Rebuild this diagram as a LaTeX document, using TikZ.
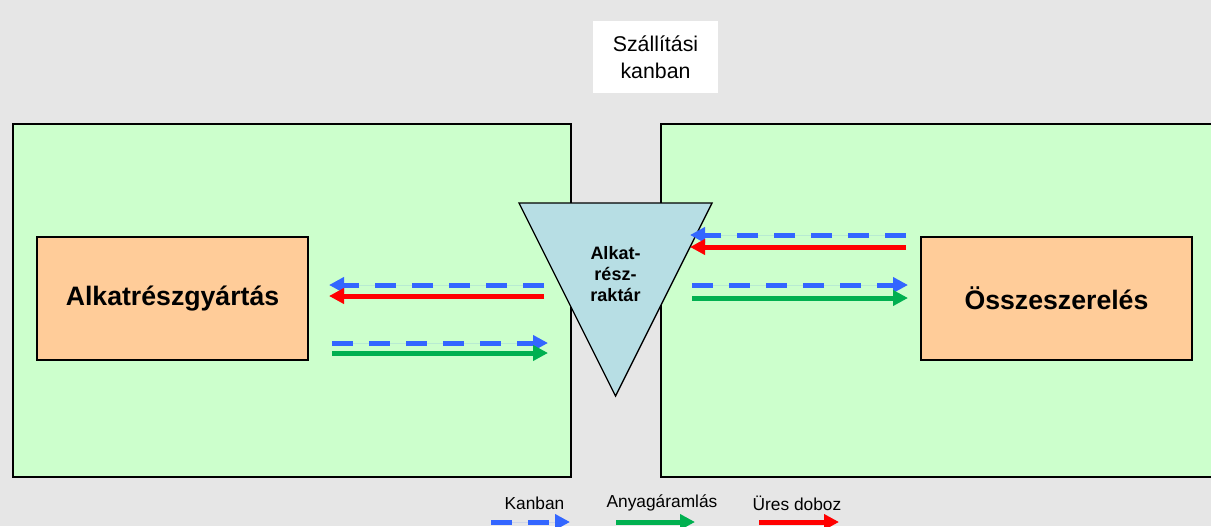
\documentclass[tikz,border=0pt]{standalone}
\usepackage{fontspec}
\setmainfont{Liberation Sans}
\usetikzlibrary{arrows.meta}
\definecolor{bggray}{RGB}{230,230,230}
\definecolor{panelgreen}{RGB}{204,255,204}
\definecolor{boxorange}{RGB}{255,204,153}
\definecolor{storeblue}{RGB}{183,222,228}
\definecolor{kanbanblue}{RGB}{51,102,255}
\definecolor{flowgreen}{RGB}{0,176,80}
\definecolor{emptyred}{RGB}{255,0,0}
\tikzset{
	panel/.style={draw, line width=1.5pt, fill=panelgreen},
	procbox/.style={draw, line width=1.5pt, fill=boxorange, minimum width=203.25pt, minimum height=92.25pt, font=\fontsize{20}{24}\selectfont\bfseries},
	flowarrow/.style={line width=3.75pt, -{Triangle[length=11.25pt, width=11.25pt]}},
	kanban/.style={flowarrow, draw=kanbanblue, fill=kanbanblue, dash pattern=on 15.75pt off 12pt},
	material/.style={flowarrow, draw=flowgreen, fill=flowgreen},
	emptybox/.style={flowarrow, draw=emptyred, fill=emptyred},
	legtext/.style={font=\fontsize{13}{15}\selectfont}
}
\begin{document}
\begin{tikzpicture}[x=0.75pt, y=-0.75pt]
	\useasboundingbox (0,0) rectangle (1211,526);
	\fill[bggray] (0,0) rectangle (1211,526);
	\clip (0,0) rectangle (1211,526);
	%%%%%%%%%%%%%
	\node[panel, minimum width=418.5pt, minimum height=264.75pt] (lpanel) at (292,300.5) {};
	\node[panel, minimum width=450pt, minimum height=264.75pt] (rpanel) at (961,300.5) {};
	\node[fill=white, minimum width=93.75pt, minimum height=54pt, align=center, font=\fontsize{16}{20}\selectfont] (shipping) at (655.5,57) {Szállítási\\kanban};
	\node[procbox] (lbox) at (172.5,298.5) {Alkatrészgyártás};
	\node[procbox] (rbox) at (1056.5,298.5) {Összeszerelés};
	\draw[fill=storeblue, line width=1pt] (519,203) -- (712,203) -- (615.5,396) -- cycle;
	\node[align=center, font=\fontsize{13.5}{16}\selectfont\bfseries] (store) at (615.5,274) {Alkat-\\rész-\\raktár};
	%%%%%%%%%%%%%
	\draw[kanban] ([shift={(235,-13.5)}]lbox.east) -- ([shift={(20,-13.5)}]lbox.east);
	\draw[emptybox] ([shift={(235,-2.5)}]lbox.east) -- ([shift={(20,-2.5)}]lbox.east);
	\draw[kanban] ([shift={(23,44.5)}]lbox.east) -- ([shift={(239,44.5)}]lbox.east);
	\draw[material] ([shift={(23,54.5)}]lbox.east) -- ([shift={(239,54.5)}]lbox.east);
	\draw[kanban] ([shift={(-14,-63.5)}]rbox.west) -- ([shift={(-230,-63.5)}]rbox.west);
	\draw[emptybox] ([shift={(-14,-51.5)}]rbox.west) -- ([shift={(-230,-51.5)}]rbox.west);
	\draw[kanban] ([shift={(-228,-13.5)}]rbox.west) -- ([shift={(-12,-13.5)}]rbox.west);
	\draw[material] ([shift={(-228,-0.5)}]rbox.west) -- ([shift={(-12,-0.5)}]rbox.west);
	%%%%%%%%%%%%%
	\node[legtext] (legkanban) at (534.5,503) {Kanban};
	\node[legtext] (legflow) at (662,503) {Anyagáramlás};
	\node[legtext] (legempty) at (797,503) {Üres doboz};
	\draw[kanban] ([shift={(-43.5,19)}]legkanban.center) -- ([shift={(35.5,19)}]legkanban.center);
	\draw[material] ([shift={(-46,19)}]legflow.center) -- ([shift={(33,19)}]legflow.center);
	\draw[emptybox] ([shift={(-38,19)}]legempty.center) -- ([shift={(42,19)}]legempty.center);
\end{tikzpicture}
\end{document}
